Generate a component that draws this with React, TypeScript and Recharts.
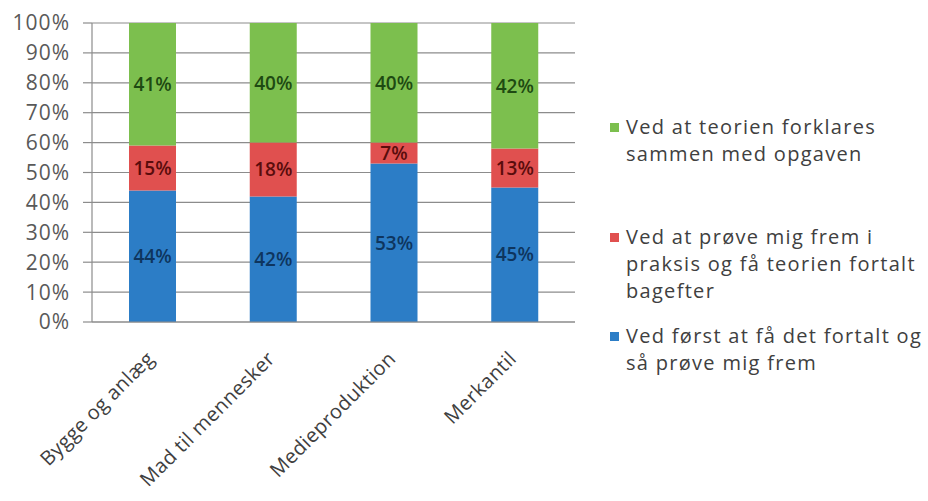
import React from 'react'
import { BarChart, Bar, XAxis, YAxis, CartesianGrid, Legend, LabelList } from 'recharts'

document.body.style.margin = '0'

const categories = ['Bygge og anlæg', 'Mad til mennesker', 'Medieproduktion', 'Merkantil']
const forstFortalt = [44, 42, 53, 45]
const proveFrem = [15, 18, 7, 13]
const teoriForklares = [41, 40, 40, 42]
const yTicks = [0, 10, 20, 30, 40, 50, 60, 70, 80, 90, 100]

const FONT = '"Open Sans", Lato, sans-serif'

const SERIES = [
  { key: 'teori', name: 'Ved at teorien forklares\nsammen med opgaven', color: '#7CBF4E', label: '#1E4A12' },
  { key: 'prove', name: 'Ved at prøve mig frem i\npraksis og få teorien fortalt\nbagefter', color: '#E0504F', label: '#5A0C0C' },
  { key: 'forst', name: 'Ved først at få det fortalt og\nså prøve mig frem', color: '#2C7DC6', label: '#0E355E' },
]

const data = categories.map((name, i) => ({
  name,
  forst: forstFortalt[i],
  prove: proveFrem[i],
  teori: teoriForklares[i],
}))

const XTick = (props: any) => {
  const { x, y, payload } = props
  const tx = x + 3
  const ty = y + 30
  return (
    <text
      x={tx}
      y={ty}
      transform={`rotate(-45, ${tx}, ${ty})`}
      textAnchor="end"
      fill="#404040"
      fontSize={20}
      letterSpacing={0.4}
      fontFamily={FONT}
    >
      {payload.value}
    </text>
  )
}

const LegendContent = () => (
  <div style={{ fontFamily: FONT, fontSize: 20, letterSpacing: 1.3, color: '#404040', lineHeight: '27px' }}>
    {SERIES.map((s, i) => (
      <div key={s.key} style={{ display: 'flex', alignItems: 'flex-start', marginBottom: i === 0 ? 56 : 18 }}>
        <span style={{ display: 'inline-block', width: 9, height: 9, background: s.color, marginTop: 10, marginRight: 7, flexShrink: 0 }} />
        <span style={{ whiteSpace: 'pre' }}>{s.name}</span>
      </div>
    ))}
  </div>
)

export default function App() {
  return (
    <BarChart
      width={928}
      height={501}
      data={data}
      margin={{ top: 23, right: 353, bottom: 0, left: 0 }}
      barSize={47}
    >
      <CartesianGrid vertical={false} stroke="#8C8C8C" strokeWidth={1.2} />
      <XAxis
        dataKey="name"
        height={179}
        interval={0}
        tick={<XTick />}
        tickLine={false}
        axisLine={{ stroke: '#8C8C8C', strokeWidth: 1.2 }}
      />
      <YAxis
        width={92}
        domain={[0, 100]}
        ticks={yTicks}
        interval={0}
        tickFormatter={(v) => `${v}%`}
        tick={{ fill: '#595959', fontSize: 21, letterSpacing: 1, fontFamily: FONT }}
        tickSize={9}
        tickMargin={13}
        tickLine={{ stroke: '#8C8C8C', strokeWidth: 1.2 }}
        axisLine={{ stroke: '#8C8C8C', strokeWidth: 1.2 }}
      />
      <Legend
        layout="vertical"
        align="center"
        verticalAlign="middle"
        content={<LegendContent />}
        wrapperStyle={{ left: 610, top: 113, width: 318 }}
      />
      {[...SERIES].reverse().map((s) => (
        <Bar key={s.key} dataKey={s.key} stackId="a" fill={s.color} isAnimationActive={false}>
          <LabelList
            dataKey={s.key}
            position="center"
            formatter={(v: any) => `${v}%`}
            fill={s.label}
            fontSize={19}
            fontWeight={600}
            fontFamily={FONT}
          />
        </Bar>
      ))}
    </BarChart>
  )
}
